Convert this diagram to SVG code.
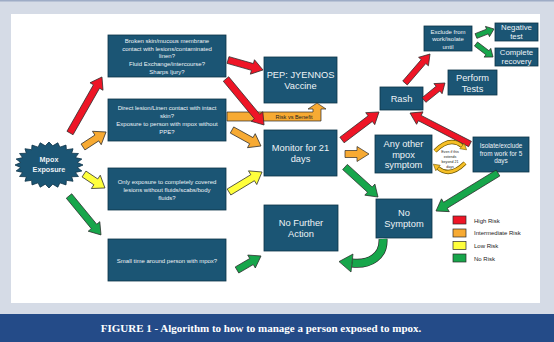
<svg xmlns="http://www.w3.org/2000/svg" width="554" height="342" viewBox="0 0 554 342">
<style>
.box{fill:#1b5574;stroke:#0c3247;stroke-width:0.8}
.t{font-family:"Liberation Sans",Arial,sans-serif;fill:#eef3f6;text-anchor:middle}
.s{font-size:6px}
.b{font-size:9.3px}
.m{font-size:7.8px}
.ar{stroke:#2a2a2a;stroke-width:0.7;stroke-linejoin:miter}
.red{fill:#ee1526}
.org{fill:#f7aa33}
.yel{fill:#ffff3c}
.grn{fill:#17a64b}
.lg{font-family:"Liberation Sans",Arial,sans-serif;font-size:6px;fill:#222}
</style>
<rect x="0" y="0" width="554" height="342" fill="#d5dbe6"/>
<rect x="0" y="0" width="554" height="1.5" fill="#9eacc6"/>
<rect x="11" y="14" width="529" height="289" fill="#ffffff"/>
<rect x="0" y="314" width="554" height="28" fill="#244b88"/>
<text x="261" y="332" font-family="'Liberation Serif','Times New Roman',serif" font-weight="bold" font-size="11" fill="#ffffff" text-anchor="middle">FIGURE 1 - Algorithm to how to manage a person exposed to mpox.</text>

<g id="mpox-exposure">
<polygon transform="translate(49,165) scale(34,23)" vector-effect="non-scaling-stroke" fill="#1b5574" stroke="#0c3247" stroke-width="0.8" points="1,0 0.833,0.110 0.966,0.259 0.776,0.321 0.866,0.5 0.666,0.511 0.707,0.707 0.511,0.666 0.5,0.866 0.321,0.776 0.259,0.966 0.110,0.833 0,1 -0.110,0.833 -0.259,0.966 -0.321,0.776 -0.5,0.866 -0.511,0.666 -0.707,0.707 -0.666,0.511 -0.866,0.5 -0.776,0.321 -0.966,0.259 -0.833,0.110 -1,0 -0.833,-0.110 -0.966,-0.259 -0.776,-0.321 -0.866,-0.5 -0.666,-0.511 -0.707,-0.707 -0.511,-0.666 -0.5,-0.866 -0.321,-0.776 -0.259,-0.966 -0.110,-0.833 0,-1 0.110,-0.833 0.259,-0.966 0.321,-0.776 0.5,-0.866 0.511,-0.666 0.707,-0.707 0.666,-0.511 0.866,-0.5 0.776,-0.321 0.966,-0.259 0.833,-0.110"/>
<text class="t" font-size="7.2" font-weight="bold" x="49" y="162">Mpox</text>
<text class="t" font-size="7.2" font-weight="bold" x="49" y="171.5">Exposure</text>
</g>

<g id="broken-skin">
<rect class="box" x="108" y="35" width="118" height="42"/>
<text class="t s" x="167" y="43">Broken skin/mucous membrane</text>
<text class="t s" x="167" y="50.7">contact with lesions/contaminated</text>
<text class="t s" x="167" y="58.4">linen?</text>
<text class="t s" x="167" y="66.1">Fluid Exchange/intercourse?</text>
<text class="t s" x="167" y="73.8">Sharps Ijury?</text>
</g>
<g id="direct-lesion">
<rect class="box" x="108" y="99" width="118" height="42"/>
<text class="t s" x="167" y="110">Direct lesion/Linen contact with intact</text>
<text class="t s" x="167" y="118">skin?</text>
<text class="t s" x="167" y="126">Exposure to person with mpox without</text>
<text class="t s" x="167" y="134">PPE?</text>
</g>
<g id="covered-lesions">
<rect class="box" x="108" y="168" width="118" height="42"/>
<text class="t s" x="167" y="184">Only exposure to completely covered</text>
<text class="t s" x="167" y="192">lesions without fluids/scabs/body</text>
<text class="t s" x="167" y="199.5">fluids?</text>
</g>
<g id="small-time">
<rect class="box" x="108" y="239" width="118" height="42"/>
<text class="t s" x="167" y="263">Small time around person with mpox?</text>
</g>
<g id="pep">
<rect class="box" x="264" y="57" width="73" height="46"/>
<text class="t b" x="300.5" y="78.3">PEP: JYENNOS</text>
<text class="t b" x="300.5" y="89.3">Vaccine</text>
</g>
<g id="monitor">
<rect class="box" x="264" y="130" width="73" height="46"/>
<text class="t b" x="300.5" y="151.3">Monitor for 21</text>
<text class="t b" x="300.5" y="162.3">days</text>
</g>
<g id="no-further-action">
<rect class="box" x="264" y="205" width="74" height="46"/>
<text class="t b" x="301" y="226.3">No Further</text>
<text class="t b" x="301" y="237.3">Action</text>
</g>
<g id="no-symptom">
<rect class="box" x="376" y="199" width="56" height="39"/>
<text class="t b" x="404" y="216.3">No</text>
<text class="t b" x="404" y="227.3">Symptom</text>
</g>
<g id="rash">
<rect class="box" x="380" y="87" width="43" height="23"/>
<text class="t b" x="401.5" y="101.8">Rash</text>
</g>
<g id="perform-tests">
<rect class="box" x="448" y="70" width="49" height="25"/>
<text class="t b" x="472.5" y="80.5">Perform</text>
<text class="t b" x="472.5" y="91.5">Tests</text>
</g>
<g id="exclude">
<rect class="box" x="424" y="26" width="48" height="25"/>
<text class="t s" x="448" y="34.1">Exclude from</text>
<text class="t s" x="448" y="41.3">work/isolate</text>
<text class="t s" x="448" y="48.6">until</text>
</g>
<g id="negative-test">
<rect class="box" x="495" y="23" width="43" height="18"/>
<text class="t m" x="516.5" y="29.5">Negative</text>
<text class="t m" x="516.5" y="39.3">test</text>
</g>
<g id="complete-recovery">
<rect class="box" x="495" y="48" width="43" height="18"/>
<text class="t m" x="516.5" y="55">Complete</text>
<text class="t m" x="516.5" y="64.4">recovery</text>
</g>
<g id="any-other-symptom">
<rect class="box" x="375" y="135" width="57" height="38"/>
<text class="t b" x="403.5" y="146.6">Any other</text>
<text class="t b" x="403.5" y="157.6">mpox</text>
<text class="t b" x="403.5" y="168.3">symptom</text>
</g>
<g id="isolate">
<rect class="box" x="473" y="137" width="56" height="35"/>
<text class="t" font-size="6.4" x="501" y="148">Isolate/exclude</text>
<text class="t" font-size="6.4" x="501" y="155.6">from work for 5</text>
<text class="t" font-size="6.4" x="501" y="163.3">days</text>
</g>

<g id="connectors">
<path class="ar red" transform="translate(70,133) rotate(-60.3)" d="M0,-3.5 H53.5 V-7.5 L64.5,0 L53.5,7.5 V3.5 H0 Z"/>
<path class="ar org" transform="translate(83,147) rotate(-33.1)" d="M0,-3.5 H16.5 V-8 L27.5,0 L16.5,8 V3.5 H0 Z"/>
<path class="ar yel" transform="translate(84,174) rotate(33.7)" d="M0,-3.5 H14.2 V-8 L25.2,0 L14.2,8 V3.5 H0 Z"/>
<path class="ar grn" transform="translate(69,196) rotate(50.6)" d="M0,-3.5 H39.4 V-7.5 L50.4,0 L39.4,7.5 V3.5 H0 Z"/>
<path class="ar red" transform="translate(228,60) rotate(15.9)" d="M0,-3.5 H25.4 V-7.5 L36.4,0 L25.4,7.5 V3.5 H0 Z"/>
<path class="ar org" d="M227,112 H313 V109 H308 L317,103 L326,109 H321 V121 H227 Z"/>
<text x="294" y="119" font-family="'Liberation Sans',Arial,sans-serif" font-size="5.6" fill="#222" text-anchor="middle">Risk vs Benefit</text>
<path class="ar red" transform="translate(226,79) rotate(50.4)" d="M0,-3.5 H48.7 V-7.5 L59.7,0 L48.7,7.5 V3.5 H0 Z"/>
<path class="ar org" transform="translate(232,130) rotate(28.9)" d="M0,-3.5 H22.1 V-8 L33.1,0 L22.1,8 V3.5 H0 Z"/>
<path class="ar yel" transform="translate(229,192) rotate(-31.2)" d="M0,-3.5 H27.6 V-8 L38.6,0 L27.6,8 V3.5 H0 Z"/>
<path class="ar grn" transform="translate(237,270) rotate(-30.3)" d="M0,-3.5 H16.8 V-7.5 L27.8,0 L16.8,7.5 V3.5 H0 Z"/>
<path class="ar red" transform="translate(342,140) rotate(-37.1)" d="M0,-3.5 H35.4 V-7.5 L46.4,0 L35.4,7.5 V3.5 H0 Z"/>
<path class="ar org" transform="translate(345,154) rotate(0)" d="M0,-3.5 H12 V-7.5 L24,0 L12,7.5 V3.5 H0 Z"/>
<path class="ar grn" transform="translate(345,167) rotate(42.3)" d="M0,-3.5 H33.6 V-7.5 L44.6,0 L33.6,7.5 V3.5 H0 Z"/>
<path class="ar red" transform="translate(405,83) rotate(-49.2)" d="M0,-3 H28.3 V-6.5 L38.3,0 L28.3,6.5 V3 H0 Z"/>
<path class="ar red" transform="translate(424,100) rotate(-39)" d="M0,-3 H18 V-6.5 L27,0 L18,6.5 V3 H0 Z"/>
<path class="ar grn" transform="translate(476,36) rotate(-21.3)" d="M0,-2.5 H12.3 V-5.5 L19.3,0 L12.3,5.5 V2.5 H0 Z"/>
<path class="ar grn" transform="translate(476,44) rotate(37.4)" d="M0,-2.5 H14.4 V-5.5 L21.4,0 L14.4,5.5 V2.5 H0 Z"/>
<path class="ar red" transform="translate(470,144) rotate(-152.7)" d="M0,-3 H56.5 V-7 L67.5,0 L56.5,7 V3 H0 Z"/>
<path class="ar grn" transform="translate(498,173) rotate(148.5)" d="M0,-3.5 H61.7 V-7.5 L72.7,0 L61.7,7.5 V3.5 H0 Z"/>
<path d="M383,239 C384,256 370,265 352,263" fill="none" stroke="#2a2a2a" stroke-width="9"/>
<polygon class="ar grn" points="339,261.6 353,254 351,272"/>
<path d="M383,239 C384,256 370,265 352.5,263" fill="none" stroke="#17a64b" stroke-width="7.6"/>
<path d="M435,151 Q450,136 462,146" fill="none" stroke="#6b5500" stroke-width="4.2"/>
<path d="M435,151 Q450,136 462,146" fill="none" stroke="#f6bf26" stroke-width="2.8"/>
<polygon points="466.6,149.8 459.8,148.7 464.2,143.3" fill="#f6bf26" stroke="#6b5500" stroke-width="0.6"/>
<path d="M465,163 Q450,178 438,168" fill="none" stroke="#6b5500" stroke-width="4.2"/>
<path d="M465,163 Q450,178 438,168" fill="none" stroke="#f6bf26" stroke-width="2.8"/>
<polygon points="433.4,164.2 440.2,165.3 435.8,170.7" fill="#f6bf26" stroke="#6b5500" stroke-width="0.6"/>
<g font-family="'Liberation Sans',Arial,sans-serif" font-size="3.6" fill="#222" text-anchor="middle">
<text x="450" y="153">Even if this</text>
<text x="450" y="158">extends</text>
<text x="450" y="163">beyond 21</text>
<text x="450" y="168">days</text>
</g>
</g>

<g id="legend">
<rect class="ar red" x="453" y="216" width="13" height="8"/>
<rect class="ar org" x="453" y="229" width="13" height="8"/>
<rect class="ar yel" x="453" y="241.5" width="13" height="8"/>
<rect class="ar grn" x="453" y="254" width="13" height="8"/>
<text class="lg" x="474" y="222.5">High Risk</text>
<text class="lg" x="474" y="235">Intermediate Risk</text>
<text class="lg" x="474" y="247.5">Low Risk</text>
<text class="lg" x="474" y="260.5">No Risk</text>
</g>
</svg>
